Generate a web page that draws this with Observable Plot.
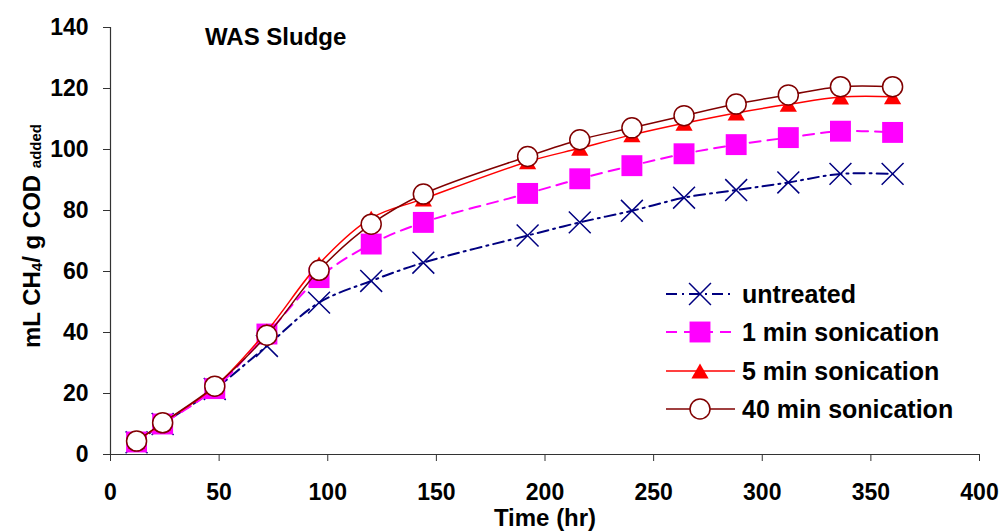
<!DOCTYPE html>
<html><head><meta charset="utf-8">
<script src="https://cdn.jsdelivr.net/npm/d3@7"></script>
<script src="https://cdn.jsdelivr.net/npm/@observablehq/plot@0.6"></script>
<style>
html,body{margin:0;padding:0;background:#fff;}
#chart svg{display:block;font-family:"Liberation Sans",Arial,sans-serif;}
</style></head><body><div id="chart"></div>
<script>
// ---- data ----
const timeHr = [12, 24, 48, 72, 96, 120, 144, 192, 216, 240, 264, 288, 312, 336, 360];
const untreated = [4, 10, 21.5, 35.6, 49.8, 56.9, 62.9, 71.8, 76.1, 79.9, 84.2, 86.7, 89.2, 92, 92];
const oneMin   = [4.1, 10, 21.6, 39.5, 58, 69, 76.1, 85.6, 90.4, 94.7, 98.6, 101.6, 103.9, 106, 105.6];
const fiveMin  = [4.3, 10.3, 22.2, 40.5, 62.5, 77.5, 83.8, 96, 100.4, 104.8, 108.6, 112, 114.8, 117.2, 117.3];
const fortyMin = [4.4, 10.4, 22.4, 39.1, 60.4, 75.5, 85.4, 97.7, 103.2, 107.1, 111.1, 114.9, 117.9, 120.6, 120.6];
const seriesNames = ["untreated", "1 min sonication", "5 min sonication", "40 min sonication"];
const seriesValues = [untreated, oneMin, fiveMin, fortyMin];
const xTicks = [0, 50, 100, 150, 200, 250, 300, 350, 400];
const yTicks = [0, 20, 40, 60, 80, 100, 120, 140];
const titleText = "WAS Sludge";
const xLabel = "Time (hr)";

// ---- styles ----
const styles = [
  {stroke: "#000080", dash: "11,5,2,5", width: 2, symbol: "times", r: 10, fill: "none", mstroke: "#000080", msw: 1.5, dy: 0},
  {stroke: "#ff00ff", dash: "11,7", width: 2, symbol: "square", r: 11.8, fill: "#ff00ff", mstroke: "none", msw: 0, dy: 0},
  {stroke: "#ff0000", dash: null, width: 1.5, symbol: "triangle", r: 6.4, fill: "#ff0000", mstroke: "none", msw: 0, dy: 2.5},
  {stroke: "#800000", dash: null, width: 1.5, symbol: "circle", r: 10, fill: "#ffffff", mstroke: "#800000", msw: 1.5, dy: 0}
];

const rows = seriesNames.map((name, i) => timeHr.map((t, j) => ({series: name, t, v: seriesValues[i][j]})));

const marks = [];
rows.forEach((data, i) => {
  const s = styles[i];
  marks.push(Plot.line(data, {x: "t", y: "v", stroke: s.stroke, strokeWidth: s.width,
    strokeDasharray: s.dash, curve: "catmull-rom"}));
  marks.push(Plot.dot(data, {x: "t", y: "v", symbol: () => s.symbol, r: s.r, fill: s.fill,
    stroke: s.mstroke, strokeWidth: s.msw, dy: s.dy}));
});

const plot = Plot.plot({
  width: 1005, height: 531,
  marginLeft: 110, marginRight: 26, marginTop: 27, marginBottom: 77,
  style: {fontFamily: "'Liberation Sans', Arial, sans-serif", fontSize: "23px", fontWeight: "bold", color: "#000", background: "#fff"},
  x: {domain: [0, 400]},
  y: {domain: [0, 140]},
  symbol: {type: "identity"},
  marks: [
    Plot.axisX({ticks: xTicks, tickSize: 7, tickPadding: 22, label: null, fontSize: 23, fontWeight: "bold", stroke: "#333"}),
    Plot.axisY({ticks: yTicks, tickSize: 7, tickPadding: 15, label: null, fontSize: 23, fontWeight: "bold", stroke: "#333"}),
    Plot.ruleY([0], {stroke: "#333", strokeWidth: 1.2}),
    Plot.ruleX([0], {stroke: "#333", strokeWidth: 1.2}),
    ...marks
  ]
});
document.getElementById("chart").appendChild(plot);

// ---- annotations: title, axis labels, legend ----
const svg = d3.select(plot);
svg.append("text").attr("x", 205).attr("y", 45).attr("text-anchor", "start").attr("font-size", 24)
  .attr("font-weight", "bold").attr("fill", "#000").text(titleText);
svg.append("text").attr("x", 545).attr("y", 526).attr("text-anchor", "middle").attr("font-size", 24)
  .attr("font-weight", "bold").attr("fill", "#000").text(xLabel);

const yl = svg.append("text").attr("transform", "translate(40,236) rotate(-90)").attr("text-anchor", "middle")
  .attr("font-size", 24).attr("font-weight", "bold").attr("fill", "#000");
yl.append("tspan").text("mL CH");
yl.append("tspan").attr("font-size", 15).attr("dy", 2).text("4");
yl.append("tspan").attr("dy", -2).text("/ g COD ");
yl.append("tspan").attr("font-size", 15).attr("dy", 1).text("added");

const legendY = [294, 332, 371, 409];
const sym = {times: d3.symbolTimes, square: d3.symbolSquare, triangle: d3.symbolTriangle, circle: d3.symbolCircle};
seriesNames.forEach((name, i) => {
  const s = styles[i];
  const g = svg.append("g").attr("transform", `translate(0,${legendY[i]})`);
  g.append("line").attr("x1", 666).attr("x2", 735).attr("y1", 0).attr("y2", 0)
    .attr("stroke", s.stroke).attr("stroke-width", s.width).attr("stroke-dasharray", s.dash);
  g.append("path").attr("transform", `translate(700,${s.dy})`)
    .attr("d", d3.symbol(sym[s.symbol], Math.PI * s.r * s.r)())
    .attr("fill", s.fill).attr("stroke", s.mstroke).attr("stroke-width", s.msw);
  g.append("text").attr("x", 742).attr("y", 0).attr("dy", "0.35em").attr("text-anchor", "start")
    .attr("font-size", 25).attr("font-weight", "bold").attr("fill", "#000").text(name);
});
</script>
</body></html>
